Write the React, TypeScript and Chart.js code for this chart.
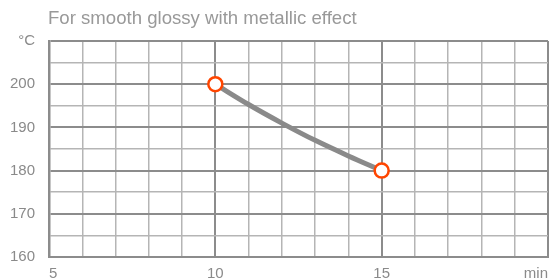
import React, { useEffect, useRef } from "react";
import { Chart, registerables } from "chart.js";

Chart.register(...registerables);

const TITLE = "For smooth glossy with metallic effect";
const curveMinutes = [10, 11, 12, 13, 14, 15];
const curveTemps = [200, 195.3, 191.0, 187.0, 183.4, 180];
const markerMinutes = [10, 15];
const markerTemps = [200, 180];
const X_MIN = 5;
const X_MAX = 20;
const Y_MIN = 160;
const Y_MAX = 210;
const X_UNIT = "min";
const Y_UNIT = "°C";

const FONT = '"Liberation Sans", Arial, sans-serif';
const TEXT = "#8a8a8a";
const MAJOR = "#8c8c8c";
const MINOR = "#b5b5b5";
const CLEAR = "rgba(0,0,0,0)";

export default function App() {
  const ref = useRef<HTMLCanvasElement | null>(null);
  useEffect(() => {
    if (!ref.current) return;
    const titlePlugin = {
      id: "titleText",
      afterDraw(chart: any) {
        const c = chart.ctx;
        c.save();
        c.font = `18.6px ${FONT}`;
        c.fillStyle = "#999999";
        c.textBaseline = "alphabetic";
        c.textAlign = "left";
        c.fillText(TITLE, 48, 24);
        c.restore();
      },
    };
    const chart = new Chart(ref.current, {
      type: "line",
      data: {
        datasets: [
          {
            data: markerMinutes.map((x, i) => ({ x, y: markerTemps[i] })),
            showLine: false,
            pointRadius: 7,
            pointBorderWidth: 2.5,
            pointBorderColor: "#ff4500",
            pointBackgroundColor: "#ffffff",
            order: 0,
          },
          {
            data: curveMinutes.map((x, i) => ({ x, y: curveTemps[i] })),
            borderColor: "#8a8a8a",
            borderWidth: 5,
            pointRadius: 0,
            cubicInterpolationMode: "monotone",
            fill: false,
            order: 1,
          },
        ],
      },
      options: {
        animation: false,
        responsive: false,
        layout: { autoPadding: false, padding: { top: 41, right: 2, left: 0, bottom: 0 } },
        plugins: { legend: { display: false }, tooltip: { enabled: false }, title: { display: false } },
        scales: {
          x: {
            type: "linear",
            min: X_MIN,
            max: X_MAX,
            afterFit(scale: any) {
              scale.height = 22;
            },
            border: { color: MAJOR, width: 2 },
            grid: {
              drawTicks: true,
              tickLength: 8,
              tickColor: CLEAR,
              color: (ctx: any) => (ctx.tick && ctx.tick.value % 5 === 0 ? MAJOR : MINOR),
              lineWidth: (ctx: any) => (ctx.tick && ctx.tick.value % 5 === 0 ? 2 : 1.5),
            },
            ticks: {
              stepSize: 1,
              autoSkip: false,
              maxRotation: 0,
              align: "inner",
              padding: 0,
              color: TEXT,
              font: { family: FONT, size: 15 },
              callback: (v: any) => (v === X_MAX ? X_UNIT : v % 5 === 0 ? String(v) : ""),
            },
          },
          y: {
            type: "linear",
            min: Y_MIN,
            max: Y_MAX,
            afterFit(scale: any) {
              scale.width = 49;
            },
            border: { color: MAJOR, width: 2.5 },
            grid: {
              drawTicks: true,
              tickLength: 14,
              tickColor: CLEAR,
              color: (ctx: any) => (ctx.tick && ctx.tick.value % 10 === 0 ? MAJOR : MINOR),
              lineWidth: (ctx: any) => (ctx.tick && ctx.tick.value % 10 === 0 ? 2 : 1.5),
            },
            ticks: {
              stepSize: 5,
              autoSkip: false,
              padding: 0,
              color: TEXT,
              font: { family: FONT, size: 15 },
              callback: (v: any) => (v === Y_MAX ? Y_UNIT : v % 10 === 0 ? String(v) : ""),
            },
          },
        },
      },
      plugins: [titlePlugin],
    } as any);
    return () => chart.destroy();
  }, []);
  return (
    <div style={{ position: "absolute", left: 0, top: 0, width: 550, height: 279 }}>
      <canvas ref={ref} width={550} height={279} style={{ display: "block" }} />
    </div>
  );
}
